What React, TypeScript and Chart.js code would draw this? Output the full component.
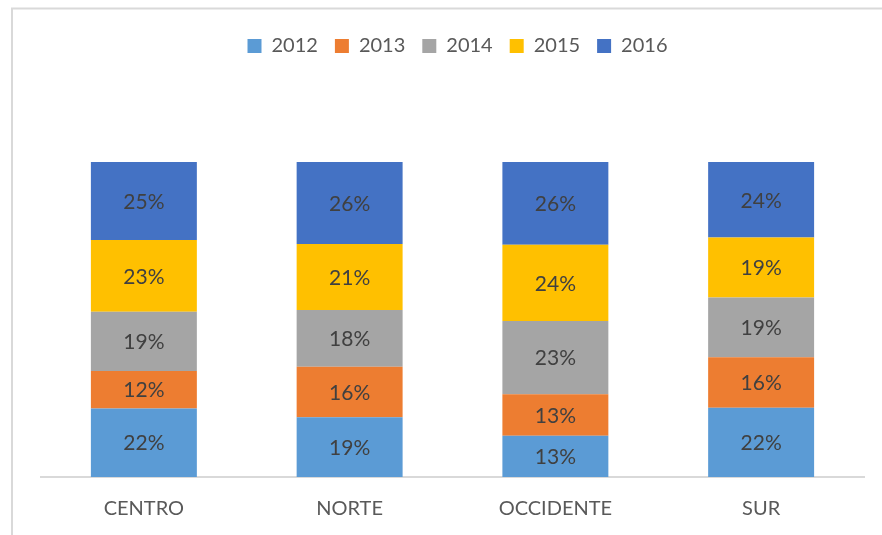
import React, { useEffect, useRef } from 'react';
import { Chart, registerables } from 'chart.js';

Chart.register(...registerables);

const categories = ['CENTRO', 'NORTE', 'OCCIDENTE', 'SUR'];
const seriesNames = ['2012', '2013', '2014', '2015', '2016'];
const values2012 = [22, 19, 13, 22];
const values2013 = [12, 16, 13, 16];
const values2014 = [19, 18, 23, 19];
const values2015 = [23, 21, 24, 19];
const values2016 = [25, 26, 26, 24];
const seriesColors = ['#5B9BD5', '#ED7D31', '#A5A5A5', '#FFC000', '#4472C4'];

const FONT = 'Lato, "Open Sans", "Liberation Sans", sans-serif';

export default function App() {
  const ref = useRef<HTMLCanvasElement | null>(null);

  useEffect(() => {
    document.body.style.margin = '0';
    const canvas = ref.current;
    if (!canvas) return;

    const raw = [values2012, values2013, values2014, values2015, values2016];
    const totals = categories.map((_, i) => raw.reduce((s, arr) => s + arr[i], 0));
    const datasets = raw.map((arr, k) => ({
      label: seriesNames[k],
      data: arr.map((v, i) => (v / totals[i]) * 100),
      backgroundColor: seriesColors[k],
      borderWidth: 0,
      barPercentage: 0.515,
      categoryPercentage: 1,
    }));

    const legendSpace = {
      id: 'legendSpace',
      beforeInit(chart: any) {
        const legend = chart.legend;
        if (!legend) return;
        const fit = legend.fit;
        legend.fit = function () {
          fit.bind(legend)();
          this.height += 96;
        };
      },
      afterLayout(chart: any) {
        const legend = chart.legend;
        if (!legend) return;
        legend.left += 5;
        legend.right += 5;
      },
    };

    const frame = {
      id: 'frame',
      beforeDraw(chart: any) {
        const ctx = chart.ctx;
        ctx.save();
        ctx.fillStyle = '#ffffff';
        ctx.fillRect(0, 0, chart.width, chart.height);
        ctx.strokeStyle = '#d9d9d9';
        ctx.lineWidth = 2;
        ctx.beginPath();
        ctx.moveTo(12, chart.height);
        ctx.lineTo(12, 8.5);
        ctx.lineTo(chart.width, 8.5);
        ctx.stroke();
        ctx.restore();
      },
    };

    const dataLabels = {
      id: 'dataLabels',
      afterDatasetsDraw(chart: any) {
        const ctx = chart.ctx;
        ctx.save();
        ctx.font = `21px ${FONT}`;
        ctx.fillStyle = '#404040';
        ctx.textAlign = 'center';
        ctx.textBaseline = 'middle';
        chart.data.datasets.forEach((ds: any, di: number) => {
          const meta = chart.getDatasetMeta(di);
          meta.data.forEach((bar: any, i: number) => {
            const v = ds.data[i];
            const y = (bar.y + bar.base) / 2;
            ctx.fillText(`${Math.round(v)}%`, bar.x, y + 1);
          });
        });
        ctx.restore();
      },
    };

    const chart = new Chart(canvas, {
      type: 'bar',
      data: { labels: categories, datasets },
      options: {
        animation: false,
        responsive: false,
        devicePixelRatio: 1,
        layout: { padding: { left: 41, right: 18, top: 19, bottom: -6 } },
        plugins: {
          legend: {
            position: 'top',
            align: 'center',
            labels: {
              boxWidth: 14,
              boxHeight: 14,
              padding: 17,
              color: '#595959',
              font: { family: FONT, size: 20 },
            },
          },
          tooltip: { enabled: false },
        },
        scales: {
          x: {
            stacked: true,
            grid: { display: false, drawTicks: false },
            border: { display: true, color: '#d9d9d9', width: 2 },
            ticks: {
              color: '#595959',
              font: { family: FONT, size: 20 },
              padding: 20,
            },
          },
          y: {
            stacked: true,
            display: false,
            min: 0,
            max: 100,
          },
        },
      },
      plugins: [legendSpace, frame, dataLabels],
    });

    return () => chart.destroy();
  }, []);

  return (
    <div style={{ width: 882, height: 535 }}>
      <canvas ref={ref} width={882} height={535} style={{ display: 'block' }} />
    </div>
  );
}
